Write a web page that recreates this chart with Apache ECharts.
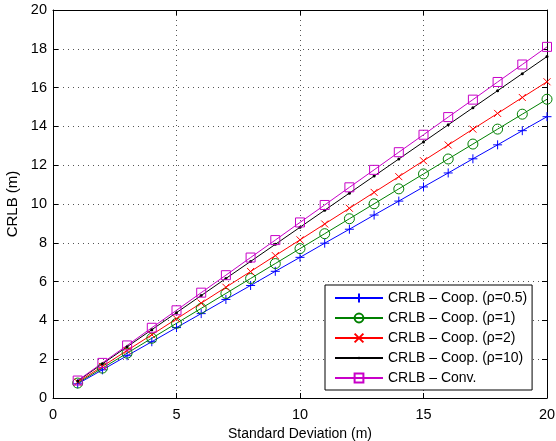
<!DOCTYPE html>
<html>
<head>
<meta charset="UTF-8">
<title>CRLB</title>
<script src="https://cdn.jsdelivr.net/npm/echarts@6/dist/echarts.min.js"></script>
<style>
  html, body { margin: 0; padding: 0; background: #fff; }
  #chart { width: 556px; height: 441px; }
</style>
</head>
<body>
<div id="chart"></div>
<script>
const stdDev = [1, 2, 3, 4, 5, 6, 7, 8, 9, 10, 11, 12, 13, 14, 15, 16, 17, 18, 19, 20];
const coopRho05 = [0.73, 1.45, 2.18, 2.90, 3.63, 4.35, 5.08, 5.80, 6.53, 7.25, 7.98, 8.70, 9.43, 10.15, 10.88, 11.60, 12.33, 13.05, 13.78, 14.50];
const coopRho1 = [0.77, 1.54, 2.31, 3.08, 3.85, 4.62, 5.39, 6.16, 6.93, 7.70, 8.47, 9.24, 10.01, 10.78, 11.55, 12.32, 13.09, 13.86, 14.63, 15.40];
const coopRho2 = [0.82, 1.63, 2.45, 3.26, 4.08, 4.89, 5.71, 6.52, 7.34, 8.15, 8.97, 9.78, 10.60, 11.41, 12.23, 13.04, 13.86, 14.67, 15.49, 16.30];
const coopRho10 = [0.88, 1.76, 2.64, 3.52, 4.40, 5.28, 6.16, 7.04, 7.92, 8.80, 9.68, 10.56, 11.44, 12.32, 13.20, 14.08, 14.96, 15.84, 16.72, 17.60];
const conv = [0.90, 1.81, 2.71, 3.62, 4.52, 5.43, 6.33, 7.24, 8.14, 9.05, 9.95, 10.86, 11.76, 12.67, 13.57, 14.48, 15.38, 16.29, 17.19, 18.10];

const names = [
    'CRLB \u2013 Coop. (\u03c1=0.5)',
    'CRLB \u2013 Coop. (\u03c1=1)',
    'CRLB \u2013 Coop. (\u03c1=2)',
    'CRLB \u2013 Coop. (\u03c1=10)',
    'CRLB \u2013 Conv.'
];

const font = '"Liberation Sans", Arial, sans-serif';
const pairs = ys => stdDev.map((x, i) => [x, ys[i]]);

// marker shapes (MATLAB style, unfilled)
const plusPath = 'path://M0,5L10,5M5,0L5,10';
const crossPath = 'path://M0,0L10,10M10,0L0,10';
// small dot inside a larger invisible box so the legend icon stays small too
const dotPath = 'path://M0,0M10,10M3.5,5A1.5,1.5 0 1,0 6.5,5A1.5,1.5 0 1,0 3.5,5Z';

function makeSeries(name, ys, color, symbol, size, filled) {
    return {
        name: name,
        type: 'line',
        data: pairs(ys),
        symbol: symbol,
        symbolSize: size,
        showAllSymbol: true,
        lineStyle: { color: color, width: 1 },
        itemStyle: { color: filled ? color : 'rgba(0,0,0,0)', borderColor: color, borderWidth: filled ? 0 : 1 },
        emphasis: { disabled: true },
        z: 3
    };
}

const chart = echarts.init(document.getElementById('chart'));

const axisCommon = {
    type: 'value',
    min: 0,
    max: 20,
    axisLine: { show: true, onZero: false, lineStyle: { color: '#000', width: 1 } },
    axisTick: { show: true, inside: true, length: 5, lineStyle: { color: '#000' } },
    axisLabel: { color: '#000', fontSize: 14.5, fontFamily: font }
};
const gridLine = { show: true, lineStyle: { color: '#555', type: [1, 4], width: 1 } };

chart.setOption({
    animation: false,
    backgroundColor: '#fff',
    grid: { left: 53, right: 9, top: 10, bottom: 43, containLabel: false, outerBoundsMode: 'none' },
    xAxis: [
        Object.assign({}, axisCommon, {
            interval: 5,
            position: 'bottom',
            name: 'Standard Deviation (m)',
            nameLocation: 'middle',
            nameGap: 27,
            nameTextStyle: { color: '#000', fontSize: 14, fontFamily: font },
            axisLabel: { color: '#000', fontSize: 14.5, fontFamily: font, margin: 9 },
            splitLine: gridLine
        }),
        Object.assign({}, axisCommon, {
            interval: 5,
            position: 'top',
            axisLabel: { show: false },
            splitLine: { show: false }
        })
    ],
    yAxis: [
        Object.assign({}, axisCommon, {
            interval: 2,
            position: 'left',
            name: 'CRLB (m)',
            nameLocation: 'middle',
            nameGap: 27,
            nameRotate: 90,
            nameTextStyle: { color: '#000', fontSize: 15, fontFamily: font },
            axisLabel: { color: '#000', fontSize: 14.5, fontFamily: font, margin: 6 },
            splitLine: gridLine
        }),
        Object.assign({}, axisCommon, {
            interval: 2,
            position: 'right',
            axisLabel: { show: false },
            splitLine: { show: false }
        })
    ],
    legend: {
        orient: 'vertical',
        left: 325,
        top: 285,
        padding: [6, 5, 5, 9],
        itemWidth: 48,
        itemHeight: 11,
        itemGap: 6,
        backgroundColor: '#fff',
        borderColor: '#000',
        borderWidth: 1,
        textStyle: { color: '#000', fontSize: 14, lineHeight: 14, fontFamily: font },
        data: names
    },
    series: [
        makeSeries(names[0], coopRho05, '#0000ff', plusPath, 9, false),
        makeSeries(names[1], coopRho1, '#008000', 'circle', 10, false),
        makeSeries(names[2], coopRho2, '#ff0000', crossPath, 7, false),
        makeSeries(names[3], coopRho10, '#000000', dotPath, 10, true),
        makeSeries(names[4], conv, '#c800c8', 'rect', 9, false)
    ]
});
</script>
</body>
</html>
